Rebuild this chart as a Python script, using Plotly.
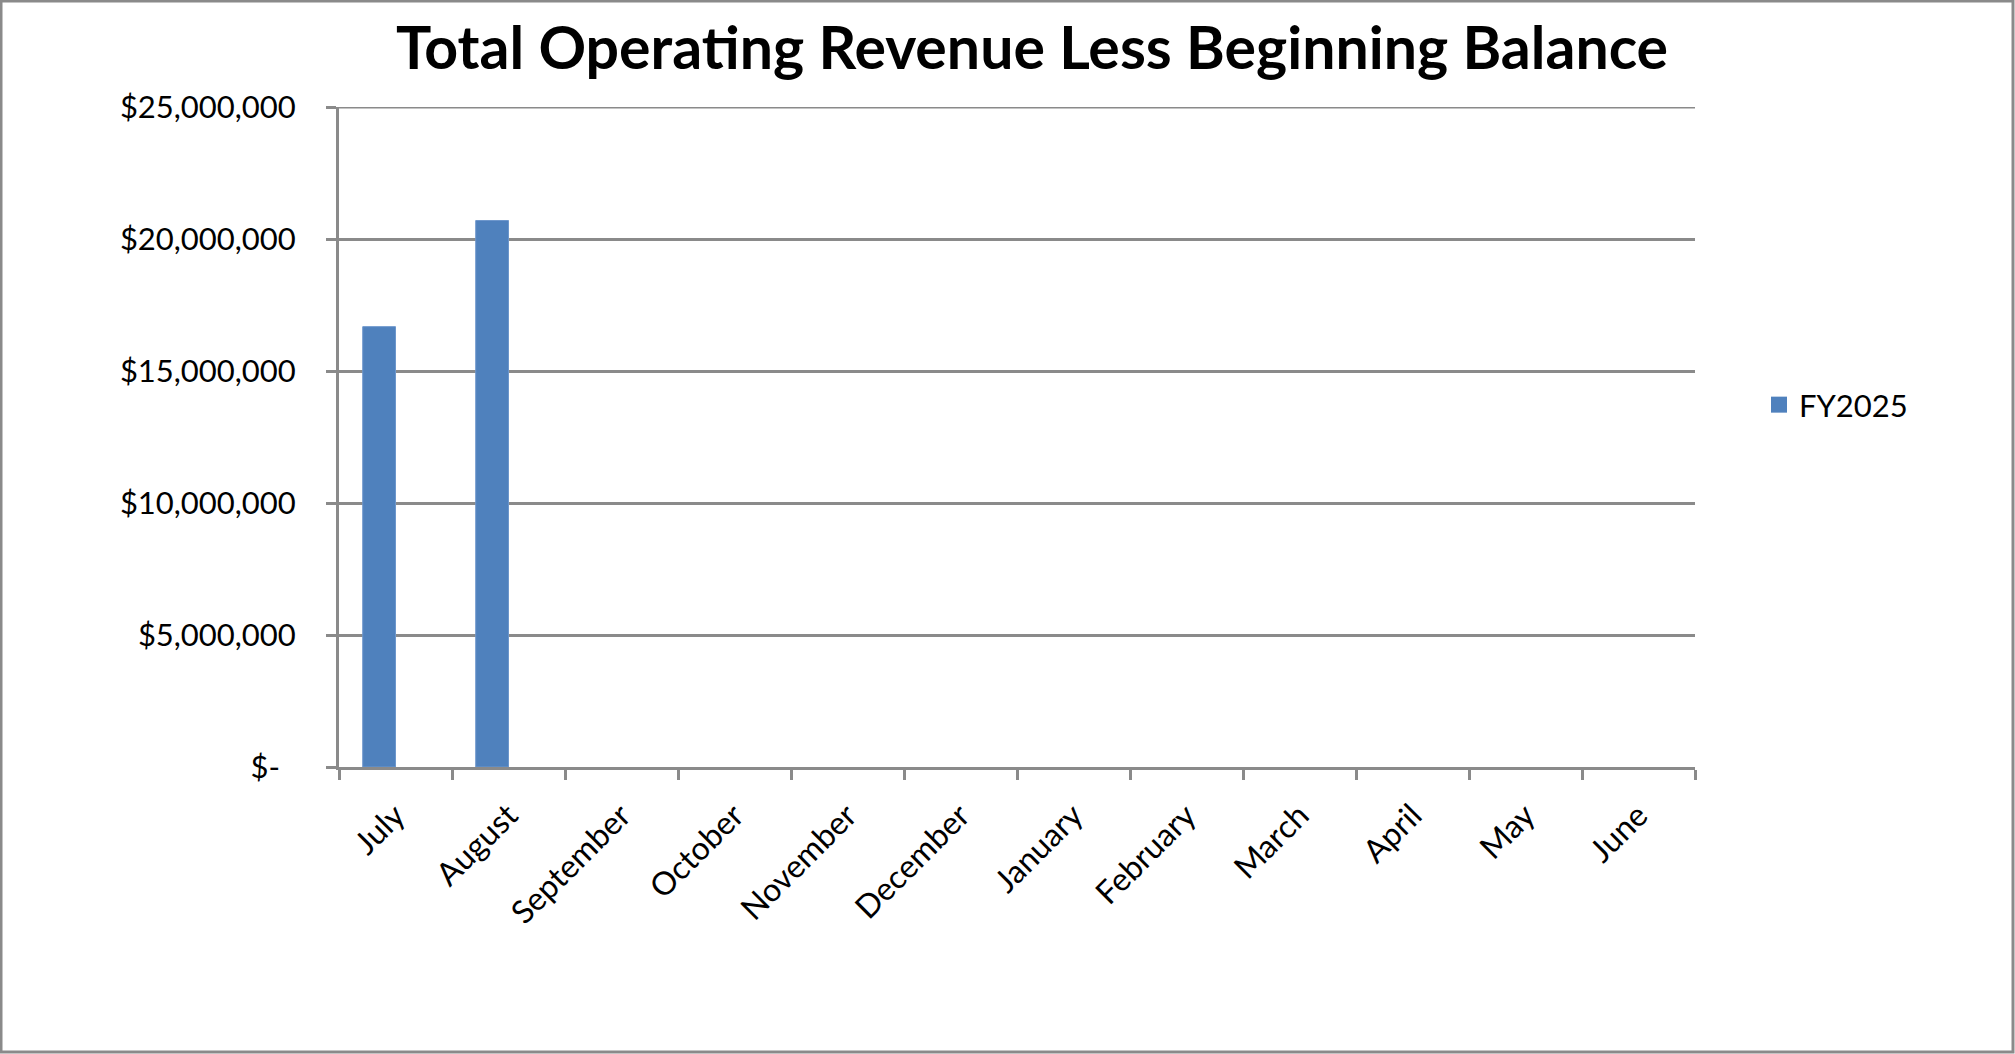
import plotly.graph_objects as go

months = ["July", "August", "September", "October", "November", "December",
          "January", "February", "March", "April", "May", "June"]
fy2025 = [16680000, 20700000, None, None, None, None, None, None, None, None, None, None]
y_tickvals = [0, 5000000, 10000000, 15000000, 20000000, 25000000]
y_ticktext = ["$-\u00a0\u00a0", "$5,000,000", "$10,000,000", "$15,000,000", "$20,000,000", "$25,000,000"]

W, H = 2015, 1054
ML, MR, MT, MB = 339, 320, 107, 287
PW, PH = W - ML - MR, H - MT - MB
GRAY = "#8a8a8a"
BLUE = "#4F81BD"
FONT = "Lato"
BAR_W = 0.29

fig = go.Figure()
fig.add_trace(go.Bar(x=months, y=fy2025, name="FY2025", showlegend=False,
                     width=BAR_W, offset=-BAR_W,
                     marker=dict(color=BLUE, line=dict(color="#6d97cc", width=1))))
# legend proxy with a larger square swatch
fig.add_trace(go.Scatter(x=[None], y=[None], mode="markers", name="FY2025",
                         marker=dict(symbol="square", size=16, color=BLUE)))

def px_x(px):
    return (px - ML) / PW

def px_y(py):
    return (H - MB - py) / PH

fig.update_layout(
    width=W, height=H,
    margin=dict(l=ML, r=MR, t=MT, b=MB),
    paper_bgcolor="white", plot_bgcolor="white",
    showlegend=True,
    font=dict(family=FONT, size=31, color="black"),
    title=dict(text="<b>Total Operating Revenue Less Beginning Balance</b>",
               font=dict(family=FONT, size=59, color="black"),
               x=1032 / W, xanchor="center", y=1 - 48 / H, yanchor="middle"),
    legend=dict(x=px_x(1759), xanchor="left", y=px_y(405), yanchor="middle",
                font=dict(family=FONT, size=31, color="black"), bgcolor="rgba(0,0,0,0)"),
    xaxis=dict(type="category", categoryorder="array", categoryarray=months,
               range=[-0.5, 11.5],
               showline=True, linecolor=GRAY, linewidth=3,
               ticks="outside", tickson="boundaries", ticklen=10, tickwidth=3, tickcolor=GRAY,
               tickangle=-45, showgrid=False, ticklabelstandoff=14,
               tickfont=dict(family=FONT, size=32, color="black")),
    yaxis=dict(range=[0, 25000000], tickvals=y_tickvals, ticktext=y_ticktext,
               showline=True, linecolor=GRAY, linewidth=3,
               ticks="outside", ticklen=10, tickwidth=3, tickcolor=GRAY,
               showgrid=True, gridcolor=GRAY, gridwidth=3, zeroline=False,
               ticklabelstandoff=24,
               tickfont=dict(family=FONT, size=31, color="black")),
)

# top gridline (at the last y tick, which sits on the plot edge)
fig.add_shape(type="line", xref="paper", yref="y",
              x0=0, x1=1, y0=y_tickvals[-1], y1=y_tickvals[-1],
              line=dict(color=GRAY, width=3), layer="below")

# outer chart border
fig.add_shape(type="rect", xref="paper", yref="paper",
              x0=px_x(1), x1=px_x(W - 2), y0=px_y(H - 2), y1=px_y(1),
              line=dict(color=GRAY, width=3), fillcolor="rgba(0,0,0,0)", layer="above")

fig.write_html("out.html")
